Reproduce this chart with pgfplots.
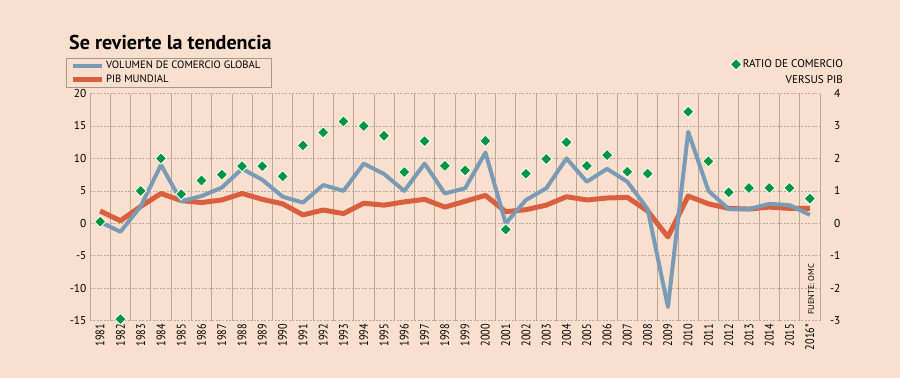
\documentclass[border=0pt]{standalone}
\usepackage{pgfplots}
\pgfplotsset{compat=1.18}
\usepackage{fontspec}
\setmainfont{PT Sans}
\newfontfamily\narrowfont{PT Sans}[FakeStretch=0.82]
\definecolor{bg}{HTML}{F9E0CE}
\definecolor{vol}{HTML}{7A9BB5}
\definecolor{pib}{HTML}{D95F3F}
\definecolor{ratio}{HTML}{009640}
\definecolor{gridc}{HTML}{B8A898}
\definecolor{legbord}{HTML}{A89888}
\begin{document}
\begin{tikzpicture}
\fill[bg] (0,0) rectangle (900bp,378bp);
\node[anchor=base west, inner sep=0, font=\bfseries\fontsize{20.1}{22}\selectfont] at (69bp,328bp) {Se revierte la tendencia};
\begin{axis}[
  at={(90bp,57.3bp)}, anchor=south west, scale only axis,
  width=730bp, height=227.2bp,
  xmin=1980.5, xmax=2016.5, ymin=-15, ymax=20,
  ytick={-15,-10,...,20},
  xtick={1981,...,2016},
  xticklabels={1981,1982,1983,1984,1985,1986,1987,1988,1989,1990,1991,1992,1993,1994,1995,1996,1997,1998,1999,2000,2001,2002,2003,2004,2005,2006,2007,2008,2009,2010,2011,2012,2013,2014,2015,2016*},
  minor xtick={1980.5,1981.5,...,2016.5},
  xminorgrids, ymajorgrids, xmajorgrids=false,
  minor grid style={draw=gridc, line width=0.7pt},
  major grid style={draw=gridc, line width=0.6pt, dash pattern=on 2pt off 1.5pt},
  extra y ticks={0}, extra y tick labels={},
  extra y tick style={grid style={solid, draw=black!85, line width=0.8pt}},
  axis line style={draw=none},
  major tick length=0pt, minor tick length=0pt,
  tick style={draw=none},
  /pgf/number format/assume math mode=true,
  xticklabel style={rotate=90, anchor=east, font=\narrowfont\fontsize{12.5}{13}\selectfont},
  yticklabel style={font=\fontsize{11.5}{12}\selectfont},
  legend style={at={(-0.0329,1.156)}, anchor=north west, draw=legbord, fill=none,
    font=\fontsize{10.7}{12}\selectfont, inner xsep=4bp, inner ysep=1bp,
    row sep=0pt, column sep=0pt,
    nodes={inner xsep=1.5bp, inner ysep=1.5bp, text height=8bp, text depth=2.5bp, anchor=west}},
  legend cell align=left,
  reverse legend,
  legend image code/.code={\path (0bp,0bp) -- (29.5bp,0bp);\draw[#1, line width=4.5pt, line cap=round] (5.25bp,0bp) -- (22.75bp,0bp);},
]
\addplot[pib, line width=5pt, line join=round] coordinates {
(1981,1.9)(1982,0.4)(1983,2.6)(1984,4.6)(1985,3.5)(1986,3.2)(1987,3.6)(1988,4.6)(1989,3.7)(1990,3.0)
(1991,1.3)(1992,2.05)(1993,1.5)(1994,3.1)(1995,2.8)(1996,3.3)(1997,3.7)(1998,2.5)(1999,3.4)(2000,4.3)
(2001,1.8)(2002,2.1)(2003,2.8)(2004,4.1)(2005,3.6)(2006,3.9)(2007,4.0)(2008,1.9)(2009,-2.1)(2010,4.2)
(2011,3.0)(2012,2.3)(2013,2.2)(2014,2.5)(2015,2.3)(2016,2.3)};
\addlegendentry{PIB MUNDIAL}
\addplot[vol, line width=4pt, line join=round] coordinates {
(1981,0.2)(1982,-1.3)(1983,2.6)(1984,9.0)(1985,3.4)(1986,4.2)(1987,5.5)(1988,8.4)(1989,6.7)(1990,4.1)
(1991,3.2)(1992,5.9)(1993,5.0)(1994,9.2)(1995,7.6)(1996,5.0)(1997,9.2)(1998,4.6)(1999,5.4)(2000,10.9)
(2001,0.0)(2002,3.6)(2003,5.4)(2004,10.0)(2005,6.4)(2006,8.4)(2007,6.4)(2008,2.2)(2009,-12.9)(2010,14.1)
(2011,5.0)(2012,2.2)(2013,2.2)(2014,3.0)(2015,2.8)(2016,1.3)};
\addlegendentry{VOLUMEN DE COMERCIO GLOBAL\hspace*{5bp}}
\end{axis}
\begin{axis}[
  at={(90bp,57.3bp)}, anchor=south west, scale only axis,
  width=730bp, height=227.2bp,
  xmin=1980.5, xmax=2016.5, ymin=-3, ymax=4,
  axis y line*=right, hide x axis,
  axis line style={draw=none},
  ytick={-3,...,4},
  major tick length=0pt, tick style={draw=none},
  /pgf/number format/assume math mode=true,
  yticklabel style={font=\fontsize{11.5}{12}\selectfont, anchor=east, xshift=24bp},
  clip=false,
  legend style={at={(1.0333,1.154)}, anchor=north east, draw=none, fill=none,
    font=\fontsize{11.2}{12}\selectfont, inner sep=0pt, nodes={inner sep=1pt}},
]
\addplot[only marks, mark=square*, mark size=4bp, mark options={rotate=45, fill=ratio, draw=white, line width=0.8pt}] coordinates {
(1981,0.05)(1982,-2.95)(1983,1.0)(1984,2.0)(1985,0.9)(1986,1.32)(1987,1.5)(1988,1.76)(1989,1.76)(1990,1.45)
(1991,2.4)(1992,2.8)(1993,3.14)(1994,3.0)(1995,2.7)(1996,1.58)(1997,2.53)(1998,1.77)(1999,1.63)(2000,2.54)
(2001,-0.19)(2002,1.53)(2003,1.98)(2004,2.5)(2005,1.77)(2006,2.1)(2007,1.59)(2008,1.53)(2010,3.44)
(2011,1.91)(2012,0.96)(2013,1.09)(2014,1.09)(2015,1.09)(2016,0.76)};
\addlegendentry{RATIO DE COMERCIO}
\end{axis}
\node[anchor=base east, inner sep=0, font=\fontsize{11.2}{12}\selectfont] at (843bp,294.7bp) {VERSUS PIB};
\node[rotate=90, anchor=base west, inner sep=0, font=\fontsize{8.5}{10}\selectfont] at (814bp,63bp) {FUENTE: OMC};
\end{tikzpicture}
\end{document}
